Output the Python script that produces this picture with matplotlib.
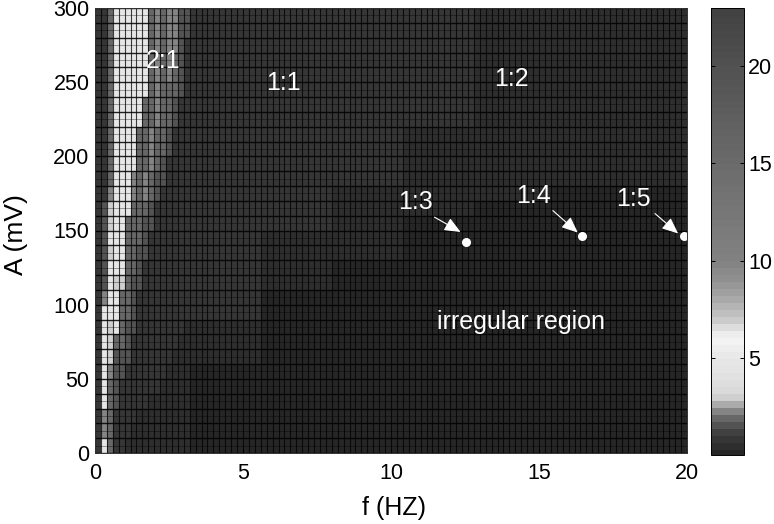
import numpy as np
import matplotlib
matplotlib.use('Agg')
import matplotlib.pyplot as plt
from matplotlib.colors import LinearSegmentedColormap

plt.rcParams['font.family'] = ['Liberation Sans', 'DejaVu Sans']

# grey levels
cbar_values = [0, 1, 1.5, 2, 2.5, 3, 4, 5, 6, 6.5, 7, 8, 9, 10, 15, 20, 23]
cbar_greys = [38, 60, 85, 112, 165, 215, 225, 232, 245, 225, 200, 170, 145, 130, 108, 82, 66]

# cell levels for the left part
d, D, L, M, G, w, W = 0.55, 0.85, 1.5, 2.05, 2.3, 3.0, 4.8

# columns 0-15 (0.2 Hz each), one row per 10 mV from the top
left_rows = [
    [D, D, M, W, W, W, W, W, W, M, G, M, G, G, L, L],
    [D, D, M, W, W, W, W, W, W, M, G, M, G, G, L, L],
    [D, D, M, W, W, W, W, W, W, M, G, M, G, G, L, D],
    [D, D, M, W, W, W, W, W, W, M, G, M, G, M, L, D],
    [D, D, M, W, W, W, W, W, W, M, G, M, G, M, L, D],
    [D, D, M, W, W, W, W, W, W, M, G, M, M, M, L, D],
    [D, D, M, W, W, W, W, W, M, M, G, M, M, L, D, D],
    [D, D, M, W, W, W, W, W, M, M, G, M, M, L, D, D],
    [D, D, M, W, W, W, W, M, M, G, M, M, L, D, D, D],
    [D, D, M, W, W, W, W, M, M, G, M, M, L, D, D, D],
    [D, D, M, W, W, W, W, M, M, G, M, L, D, D, D, D],
    [D, D, M, W, W, W, G, M, G, M, L, L, D, D, D, D],
    [D, D, G, W, W, W, G, M, G, M, L, D, D, D, D, D],
    [D, L, w, W, W, W, M, M, M, L, D, D, D, D, D, D],
    [D, L, w, W, W, M, M, M, L, L, D, D, D, D, D, D],
    [D, L, W, W, W, M, M, M, L, D, D, D, D, D, D, D],
    [D, L, w, W, W, M, M, L, L, D, D, D, D, D, D, D],
    [D, L, W, W, W, M, M, L, D, D, D, D, D, D, D, D],
    [D, L, W, w, w, M, L, L, D, D, D, D, D, D, D, D],
    [D, G, W, W, M, M, L, D, D, D, D, D, D, D, D, D],
    [D, W, W, W, M, M, L, D, D, D, D, D, D, D, D, D],
    [D, W, w, W, M, L, L, D, D, D, D, D, D, D, D, d],
    [D, W, w, M, M, L, D, D, D, D, D, D, D, D, d, d],
    [D, W, w, L, L, L, D, D, D, D, D, D, D, d, d, d],
    [D, W, G, L, L, D, D, D, D, D, D, D, d, d, d, d],
    [D, W, M, L, D, D, D, D, D, D, D, d, d, d, d, d],
    [D, W, M, L, D, D, D, D, D, d, d, d, d, d, d, d],
    [D, G, M, D, D, D, D, d, d, d, d, d, d, d, d, d],
    [D, G, M, D, D, D, d, d, d, d, d, d, d, d, d, d],
    [D, W, M, D, D, d, d, d, d, d, d, d, d, d, d, d],
]

# rest of the map in blocks of 12 columns (84 columns), one row per 10 mV from the top
right_blocks = [
    [0.85, 0.8, 0.8, 0.8, 0.6, 0.6, 0.6],
    [0.85, 0.8, 0.8, 0.8, 0.6, 0.6, 0.6],
    [0.85, 0.8, 0.8, 0.8, 0.6, 0.6, 0.6],
    [0.85, 0.8, 0.8, 0.8, 0.6, 0.6, 0.6],
    [0.85, 0.8, 0.8, 0.8, 0.6, 0.6, 0.6],
    [0.85, 0.8, 0.8, 0.8, 0.6, 0.6, 0.6],
    [0.85, 0.8, 0.8, 0.8, 0.6, 0.6, 0.5],
    [0.85, 0.8, 0.8, 0.8, 0.6, 0.6, 0.5],
    [0.85, 0.8, 0.8, 0.7, 0.6, 0.5, 0.5],
    [0.85, 0.8, 0.8, 0.7, 0.6, 0.5, 0.5],
    [0.85, 0.8, 0.8, 0.7, 0.5, 0.5, 0.4],
    [0.85, 0.8, 0.8, 0.6, 0.5, 0.4, 0.4],
    [0.85, 0.8, 0.7, 0.5, 0.4, 0.3, 0.3],
    [0.85, 0.8, 0.7, 0.4, 0.3, 0.3, 0.3],
    [0.85, 0.8, 0.6, 0.3, 0.2, 0.2, 0.2],
    [0.85, 0.7, 0.5, 0.2, 0.1, 0.1, 0.1],
    [0.85, 0.7, 0.4, 0.1, 0.1, 0.1, 0.1],
    [0.85, 0.6, 0.3, 0.1, 0.1, 0.1, 0.1],
    [0.8, 0.5, 0.2, 0.1, 0.1, 0.1, 0.1],
    [0.8, 0.35, 0.1, 0.1, 0.1, 0.1, 0.1],
    [0.75, 0.25, 0.1, 0.1, 0.1, 0.1, 0.1],
    [0.65, 0.15, 0.1, 0.1, 0.1, 0.1, 0.1],
    [0.55, 0.1, 0.1, 0.1, 0.1, 0.1, 0.1],
    [0.45, 0.1, 0.1, 0.1, 0.1, 0.1, 0.1],
    [0.35, 0.1, 0.1, 0.1, 0.1, 0.1, 0.1],
    [0.25, 0.1, 0.1, 0.1, 0.1, 0.1, 0.1],
    [0.2, 0.1, 0.1, 0.1, 0.1, 0.1, 0.1],
    [0.15, 0.1, 0.1, 0.1, 0.1, 0.1, 0.1],
    [0.1, 0.1, 0.1, 0.1, 0.1, 0.1, 0.1],
    [0.1, 0.1, 0.1, 0.1, 0.1, 0.1, 0.1],
]

freq_edges = np.arange(0, 20.1, 0.2)
amp_edges = np.arange(0, 301, 5)

x_ticks = [0, 5, 10, 15, 20]
y_ticks = [0, 50, 100, 150, 200, 250, 300]
cbar_ticks = [5, 10, 15, 20]

locked_f = [12.55, 16.45, 19.9]
locked_a = [142, 146, 146]
locked_names = ['1:3', '1:4', '1:5']
name_x = [10.83, 14.82, 18.2]
name_y = [169, 173, 171.5]
arrow_x = [11.47, 15.47, 18.92]
arrow_y = [159, 163.4, 161.4]
tip_x = [12.35, 16.31, 19.7]
tip_y = [149, 148.6, 148]

# build the map, rows bottom to top
left = np.array(left_rows)
right = np.repeat(np.array(right_blocks), 12, axis=1)
grid = np.hstack([left, right])[::-1]
grid = np.repeat(grid, 2, axis=0)

positions = [v / 23 for v in cbar_values]
colors = [(g / 255, g / 255, g / 255) for g in cbar_greys]
cmap = LinearSegmentedColormap.from_list('grey_jet', list(zip(positions, colors)), N=64)

fig = plt.figure(figsize=(7.74, 5.24), dpi=100)
ax = fig.add_axes([95 / 774, 1 - 453 / 524, 592 / 774, 445 / 524])
mesh = ax.pcolormesh(freq_edges, amp_edges, grid, cmap=cmap, vmin=0, vmax=23)

# cell borders: every second row line is the strong one
ax.vlines(freq_edges, 0, 300, color='black', linewidth=0.8, alpha=0.75)
ax.hlines(amp_edges[::2], 0, 20, color='black', linewidth=1.0, alpha=0.85)
ax.hlines(amp_edges[1::2], 0, 20, color='black', linewidth=0.6, alpha=0.4)

ax.set_xlim(0, 20)
ax.set_ylim(0, 300)
ax.set_xticks(x_ticks)
ax.set_yticks(y_ticks)
ax.tick_params(direction='in', labelsize=15.5, length=3, width=0.7)
ax.tick_params(axis='x', pad=7)
ax.tick_params(axis='y', pad=4)
ax.set_xlabel('f (HZ)', fontsize=18, labelpad=9, x=0.505)
ax.set_ylabel('A (mV)', fontsize=19, labelpad=18, y=0.49)
for spine in ax.spines.values():
    spine.set_linewidth(0.7)
    spine.set_color('#333333')

# region labels
ax.text(2.3, 264, '2:1', color='white', fontsize=18, ha='center', va='center')
ax.text(6.36, 249.5, '1:1', color='white', fontsize=18, ha='center', va='center')
ax.text(14.08, 252, '1:2', color='white', fontsize=18, ha='center', va='center')
ax.text(14.38, 88, 'irregular region', color='white', fontsize=18, ha='center', va='center')

# locked points with arrows
ax.plot(locked_f, locked_a, 'o', color='white', markersize=6.5, mec='none', clip_on=False)
for i in range(len(locked_names)):
    ax.text(name_x[i], name_y[i], locked_names[i], color='white', fontsize=18,
            ha='center', va='center')
    ax.annotate('', xy=(tip_x[i], tip_y[i]), xytext=(arrow_x[i], arrow_y[i]),
                arrowprops=dict(arrowstyle='-|>,head_length=0.7,head_width=0.3', color='white',
                                lw=0.8, shrinkA=0, shrinkB=0, mutation_scale=14))

# colourbar
cax = fig.add_axes([711 / 774, 1 - 455 / 524, 33 / 774, 447 / 524])
cbar = fig.colorbar(mesh, cax=cax)
cbar.solids.set_edgecolor('face')
cbar.set_ticks(cbar_ticks)
cbar.ax.tick_params(direction='in', labelsize=15.5, length=3, width=0.7, left=True, right=True, pad=3)
cbar.outline.set_linewidth(0.7)

fig.savefig('out.png', dpi=100)
